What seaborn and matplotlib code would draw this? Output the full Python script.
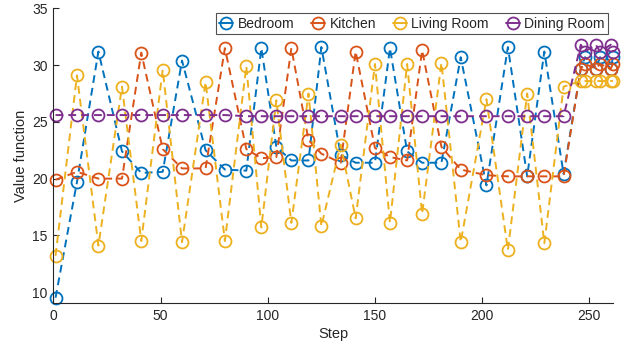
import matplotlib
matplotlib.use("Agg")
import matplotlib.pyplot as plt
import seaborn as sns
import pandas as pd

# Training steps at which each room's value function was logged
steps = [1, 11, 21, 32, 41, 51, 60, 71, 80, 90, 97, 104, 111, 119, 125, 134, 141,
         150, 157, 165, 172, 181, 190, 202, 212, 221, 229, 238,
         246, 248, 253, 255, 260, 261]

bedroom = [9.5, 19.7, 31.2, 22.4, 20.5, 20.6, 30.4, 22.5, 20.8, 20.7, 31.5, 22.8,
           21.6, 21.6, 31.6, 22.1, 21.4, 21.4, 31.5, 22.4, 21.4, 21.4, 30.7, 19.4,
           31.6, 20.2, 31.2, 20.4,
           29.7, 30.7, 29.7, 30.7, 29.7, 30.7]

kitchen = [19.9, 20.6, 20.0, 20.0, 31.1, 22.6, 20.9, 20.9, 31.5, 22.6, 21.8, 21.9,
           31.5, 23.4, 22.2, 21.4, 31.2, 22.7, 21.9, 21.6, 31.3, 22.8, 20.8, 20.3,
           20.2, 20.2, 20.2, 20.2,
           29.7, 30.1, 29.7, 30.1, 29.7, 30.1]

living_room = [13.2, 29.1, 14.1, 28.1, 14.5, 29.6, 14.4, 28.5, 14.5, 29.9, 15.7,
               26.9, 16.1, 27.5, 15.8, 23.0, 16.5, 30.1, 16.1, 30.1, 16.9, 30.2,
               14.4, 27.0, 13.7, 27.5, 14.3, 28.1,
               28.6, 28.6, 28.6, 28.6, 28.6, 28.6]

dining_room = [25.6, 25.6, 25.6, 25.6, 25.6, 25.6, 25.6, 25.6, 25.6, 25.5, 25.5,
               25.5, 25.5, 25.5, 25.5, 25.5, 25.5, 25.5, 25.5, 25.5, 25.5, 25.5,
               25.5, 25.5, 25.5, 25.5, 25.5, 25.5,
               31.8, 31.2, 31.8, 31.2, 31.8, 31.2]

rooms = ["Bedroom", "Kitchen", "Living Room", "Dining Room"]
colors = ["#0072BD", "#D95319", "#EDB120", "#7E2F8E"]

x_ticks = [0, 50, 100, 150, 200, 250]
y_ticks = [10, 15, 20, 25, 30, 35]

sns.set_style("ticks")
plt.rcParams["font.family"] = ["Liberation Sans", "DejaVu Sans"]
plt.rcParams["font.size"] = 10

fig = plt.figure(figsize=(6.28, 3.5), dpi=100)
ax = fig.add_axes([0.085, 0.133, 0.891, 0.843])

series = [bedroom, kitchen, living_room, dining_room]
for name, vals, col in zip(rooms, series, colors):
    df = pd.DataFrame({"Step": steps, "Value": vals})
    sns.lineplot(data=df, x="Step", y="Value", ax=ax, color=col, label=name,
                 marker="o", markersize=8.6, markerfacecolor="none",
                 markeredgecolor=col, markeredgewidth=1.3, linewidth=1.4,
                 linestyle="--", sort=False, estimator=None, clip_on=False)

for line in ax.lines:
    line.set_dashes((4, 2.6))

ax.set_xlim(0, 261)
ax.set_ylim(9, 35)
ax.set_xticks(x_ticks)
ax.set_yticks(y_ticks)
ax.set_xlabel("Step", fontsize=10.5, color="#262626", labelpad=3)
ax.set_ylabel("Value function", fontsize=10.5, color="#262626", labelpad=3)

for side in ["top", "right"]:
    ax.spines[side].set_visible(False)
for side in ["left", "bottom"]:
    ax.spines[side].set_color("#262626")
    ax.spines[side].set_linewidth(0.8)
ax.tick_params(direction="in", length=4, width=0.8, colors="#262626",
               labelsize=10, pad=4)

handles, labels = ax.get_legend_handles_labels()
leg = ax.legend(handles, labels, loc="upper right", ncol=4,
                bbox_to_anchor=(0.9916, 0.984), borderaxespad=0,
                frameon=True, fancybox=False, edgecolor="#262626",
                handlelength=1.0, handletextpad=0.3, columnspacing=1.25,
                borderpad=0.25, fontsize=10)
leg.get_frame().set_linewidth(0.8)
for h in leg.legend_handles:
    h.set_linestyle("-")

fig.savefig("out.png", dpi=100, facecolor="white")
